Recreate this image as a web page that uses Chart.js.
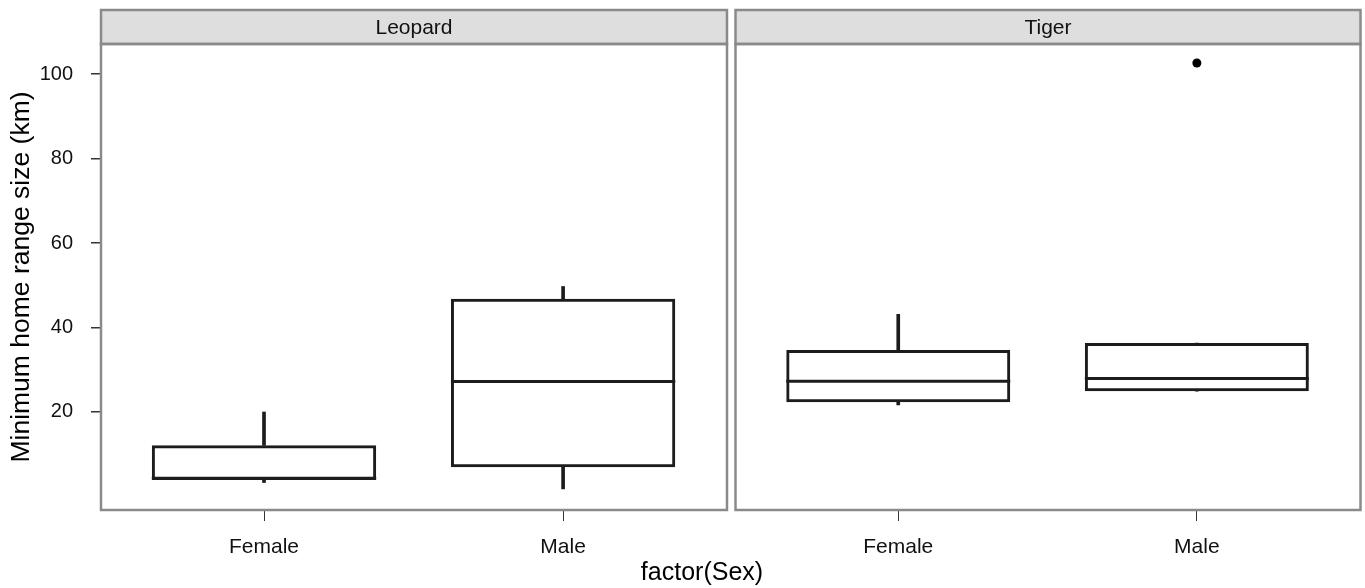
<!DOCTYPE html>
<html>
<head>
<meta charset="utf-8">
<script src="https://cdn.jsdelivr.net/npm/chart.js@4.4.1/dist/chart.umd.min.js"></script>
<style>
  html, body { margin: 0; padding: 0; background: #ffffff; }
  #wrap { position: relative; width: 1365px; height: 588px; overflow: hidden; background: #ffffff; }
  #p1 { position: absolute; left: 0; top: 0; }
  #p2 { position: absolute; left: 731px; top: 0; }
  #xtitle { position: absolute; left: 552px; top: 557px; width: 300px; text-align: center;
            font-family: 'Liberation Sans', Arial, sans-serif; font-size: 25px; line-height: 28px; color: #000; }
</style>
</head>
<body>
<div id="wrap">
  <canvas id="p1" width="731" height="588"></canvas>
  <canvas id="p2" width="634" height="588"></canvas>
  <div id="xtitle">factor(Sex)</div>
</div>
<script>
// ---- data ----
const panels = ['Leopard', 'Tiger'];
const sexes = ['Female', 'Male'];
const yTicks = [20, 40, 60, 80, 100];

const leopardLow    = [3.3, 1.8];
const leopardQ1     = [3.9, 6.9];
const leopardMedian = [4.3, 27.2];
const leopardQ3     = [12.1, 46.8];
const leopardHigh   = [20.0, 49.7];
const leopardOut    = [[], []];

const tigerLow    = [21.7, 24.9];
const tigerQ1     = [22.3, 24.9];
const tigerMedian = [27.3, 27.9];
const tigerQ3     = [34.7, 36.3];
const tigerHigh   = [43.1, 36.3];
const tigerOut    = [[], [102.6]];

// ---- style ----
const FONT = "'Liberation Sans', Arial, sans-serif";
const INK = '#1c1c1c';
const FRAME = '#8a8a8a';
const BOX_WIDTH = 0.75;   // fraction of category spacing
const X_MIN = 0.455, X_MAX = 2.548;
const Y_MIN = -3.2, Y_MAX = 107.1;
const LW = 3;

const framePlugin = {
  id: 'frame',
  afterDraw(chart, args, opts) {
    const {ctx, chartArea: a} = chart;
    ctx.save();
    const stripTop = 10;
    ctx.fillStyle = '#dedede';
    ctx.fillRect(a.left, stripTop, a.right - a.left, a.top - stripTop);
    ctx.strokeStyle = FRAME;
    ctx.lineWidth = 2.5;
    ctx.strokeRect(a.left, stripTop, a.right - a.left, a.top - stripTop);
    ctx.fillStyle = '#111';
    ctx.font = '21px ' + FONT;
    ctx.textAlign = 'center';
    ctx.textBaseline = 'middle';
    ctx.fillText(opts.label, (a.left + a.right) / 2, (stripTop + a.top) / 2 + 1);
    ctx.strokeRect(a.left, a.top, a.right - a.left, a.bottom - a.top);
    ctx.restore();
  }
};

function makeConfig(label, low, q1, med, q3, high, out, showY) {
  const half = BOX_WIDTH / 2;
  const medianPts = [];
  sexes.forEach((s, i) => {
    medianPts.push({x: i + 1 - half, y: med[i]});
    medianPts.push({x: i + 1 + half, y: med[i]});
    medianPts.push({x: i + 1.5, y: null});
  });
  const outPts = [];
  out.forEach((arr, i) => arr.forEach(v => outPts.push({x: i + 1, y: v})));

  return {
    type: 'bar',
    data: {
      datasets: [
        {
          type: 'bar',
          data: sexes.map((s, i) => ({x: i + 1, y: [q1[i], q3[i]]})),
          backgroundColor: 'rgba(0,0,0,0)',
          borderColor: INK,
          borderWidth: LW,
          borderSkipped: false,
          grouped: false,
          categoryPercentage: 1,
          barPercentage: BOX_WIDTH
        },
        {
          type: 'bar',
          data: sexes.map((s, i) => ({x: i + 1, y: [q3[i], high[i]]})),
          backgroundColor: INK,
          borderWidth: 0,
          grouped: false,
          barThickness: LW
        },
        {
          type: 'bar',
          data: sexes.map((s, i) => ({x: i + 1, y: [low[i], q1[i]]})),
          backgroundColor: INK,
          borderWidth: 0,
          grouped: false,
          barThickness: LW
        },
        {
          type: 'line',
          data: medianPts,
          borderColor: INK,
          borderWidth: LW,
          pointRadius: 0,
          spanGaps: false,
          fill: false
        },
        {
          type: 'scatter',
          data: outPts,
          pointRadius: 4.5,
          pointBackgroundColor: '#000',
          pointBorderWidth: 0
        }
      ]
    },
    options: {
      responsive: false,
      animation: false,
      events: [],
      layout: { padding: { top: 44, right: 4, left: showY ? 0 : 4, bottom: 0 } },
      plugins: {
        legend: { display: false },
        tooltip: { enabled: false },
        frame: { label: label }
      },
      scales: {
        x: {
          type: 'linear',
          min: X_MIN, max: X_MAX,
          offset: false,
          afterBuildTicks: s => { s.ticks = sexes.map((c, i) => ({value: i + 1})); },
          afterFit: s => { s.height = 78; },
          ticks: {
            callback: v => sexes[v - 1],
            font: { family: FONT, size: 21 },
            color: '#111',
            padding: 14,
            maxRotation: 0,
            autoSkip: false
          },
          grid: { offset: false, drawOnChartArea: false, drawTicks: true, tickLength: 11, color: '#333', lineWidth: 1 },
          border: { display: false }
        },
        y: {
          type: 'linear',
          display: showY,
          min: Y_MIN, max: Y_MAX,
          afterBuildTicks: s => { s.ticks = yTicks.map(v => ({value: v})); },
          afterFit: s => { s.width = showY ? 101 : 0; },
          ticks: {
            font: { family: FONT, size: 20 },
            color: '#111',
            padding: 18
          },
          grid: { drawOnChartArea: false, drawTicks: true, tickLength: 10, color: '#333', lineWidth: 1.5 },
          border: { display: false },
          title: {
            display: true,
            text: 'Minimum home range size (km)',
            font: { family: FONT, size: 26.5 },
            color: '#000',
            padding: { top: 6, bottom: 0 }
          }
        }
      }
    },
    plugins: [framePlugin]
  };
}

new Chart(document.getElementById('p1'),
  makeConfig(panels[0], leopardLow, leopardQ1, leopardMedian, leopardQ3, leopardHigh, leopardOut, true));
new Chart(document.getElementById('p2'),
  makeConfig(panels[1], tigerLow, tigerQ1, tigerMedian, tigerQ3, tigerHigh, tigerOut, false));
</script>
</body>
</html>
